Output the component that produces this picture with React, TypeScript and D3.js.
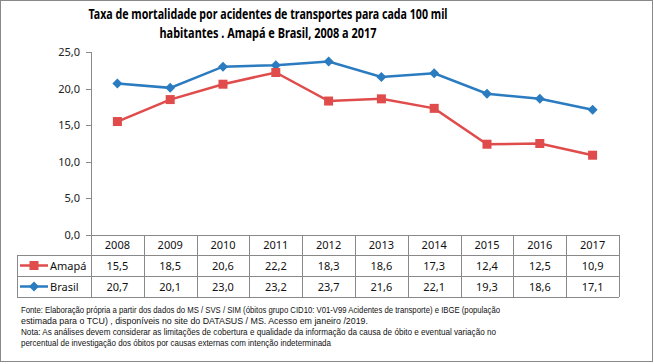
import React from "react";
import * as d3 from "d3";

// data
const years = ["2008", "2009", "2010", "2011", "2012", "2013", "2014", "2015", "2016", "2017"];
const amapa = [15.5, 18.5, 20.6, 22.2, 18.3, 18.6, 17.3, 12.4, 12.5, 10.9];
const brasil = [20.7, 20.1, 23.0, 23.2, 23.7, 21.6, 22.1, 19.3, 18.6, 17.1];
const yTicks = [0, 5, 10, 15, 20, 25];

const titleLines = [
  { text: "Taxa de mortalidade por acidentes de transportes para cada 100 mil", len: 359 },
  { text: "habitantes . Amapá e Brasil, 2008 a 2017", len: 217 },
];
const notes = [
  { text: "Fonte: Elaboração própria a partir dos dados do MS / SVS / SIM (óbitos grupo CID10: V01-V99 Acidentes de transporte) e IBGE (população", len: 479 },
  { text: "estimada para o TCU) , disponíveis  no site do DATASUS / MS. Acesso em janeiro /2019.", len: 347 },
  { text: "Nota:  As análises devem considerar as limitações de cobertura e qualidade da informação da causa de óbito e eventual variação no", len: 475 },
  { text: "percentual de investigação dos óbitos  por causas externas com intenção  indeterminada", len: 310 },
];

const RED = "#E04B4B";
const BLUE = "#2A7BBF";
const GRID = "#898989";
const FONT = "'Noto Sans', 'DejaVu Sans', sans-serif";

const fmt = (v: number) => v.toFixed(1).replace(".", ",");

export default function App() {
  const width = 654;
  const height = 364;
  const left = 91;
  const right = 619;
  const top = 52;
  const bottom = 235;
  const rowH = [20, 21, 21];
  const tableLeft = 17;

  const x = d3.scaleBand().domain(years).range([left, right]);
  const y = d3.scaleLinear().domain([0, 25]).range([bottom, top]);
  const cx = (yr: string) => (x(yr) as number) + x.bandwidth() / 2;

  const line = d3
    .line<number>()
    .x((_, i) => cx(years[i]))
    .y((d) => y(d));

  const r1 = bottom + rowH[0];
  const r2 = r1 + rowH[1];
  const r3 = r2 + rowH[2];

  const series = [
    { name: "Amapá", values: amapa, color: RED, marker: "square", rowTop: r1 },
    { name: "Brasil", values: brasil, color: BLUE, marker: "diamond", rowTop: r2 },
  ];

  const marker = (kind: string, px: number, py: number, color: string, key: string) =>
    kind === "square" ? (
      <rect key={key} x={px - 4.5} y={py - 4.5} width={9} height={9} fill={color} />
    ) : (
      <path key={key} d={`M${px},${py - 5}L${px + 5},${py}L${px},${py + 5}L${px - 5},${py}Z`} fill={color} />
    );

  return (
    <svg
      width={width}
      height={height}
      style={{ position: "absolute", left: 0, top: 0, background: "#fff" }}
      fontFamily={FONT}
    >
      <rect x={0.5} y={0.5} width={652} height={361} fill="#fff" stroke={GRID} />

      {titleLines.map((t, i) => (
        <text
          key={i}
          x={268}
          y={19 + i * 19}
          textAnchor="middle"
          fontWeight="bold"
          fontSize={14}
          textLength={t.len}
          lengthAdjust="spacingAndGlyphs"
          fill="#000"
        >
          {t.text}
        </text>
      ))}

      {/* y axis */}
      <line x1={left + 0.5} x2={left + 0.5} y1={top} y2={bottom} stroke={GRID} />
      {yTicks.map((t) => (
        <g key={t}>
          <line x1={left - 5} x2={left} y1={Math.round(y(t)) + 0.5} y2={Math.round(y(t)) + 0.5} stroke={GRID} />
          <text x={80} y={y(t) + 4} textAnchor="end" fontSize={11} fill="#222">
            {fmt(t)}
          </text>
        </g>
      ))}

      {/* lines */}
      {series
        .slice()
        .reverse()
        .map((s) => (
          <g key={s.name}>
            <path d={line(s.values) as string} fill="none" stroke={s.color} strokeWidth={2.5} />
            {s.values.map((v, i) => marker(s.marker, cx(years[i]), y(v), s.color, s.name + i))}
          </g>
        ))}

      {/* data table */}
      <g stroke={GRID} fill="none">
        <line x1={left} x2={right} y1={bottom + 0.5} y2={bottom + 0.5} />
        <line x1={tableLeft} x2={right} y1={r1 + 0.5} y2={r1 + 0.5} />
        <line x1={tableLeft} x2={right} y1={r2 + 0.5} y2={r2 + 0.5} />
        <line x1={tableLeft} x2={right} y1={r3 + 0.5} y2={r3 + 0.5} />
        <line x1={tableLeft + 0.5} x2={tableLeft + 0.5} y1={r1} y2={r3} />
        {years.map((yr) => (
          <line key={yr} x1={Math.round(x(yr) as number) + 0.5} x2={Math.round(x(yr) as number) + 0.5} y1={bottom} y2={r3} />
        ))}
        <line x1={right + 0.5} x2={right + 0.5} y1={bottom} y2={r3} />
      </g>
      {years.map((yr) => (
        <text key={yr} x={cx(yr)} y={bottom + 14} textAnchor="middle" fontSize={11} fill="#111">
          {yr}
        </text>
      ))}
      {series.map((s) => (
        <g key={s.name}>
          <line x1={20} x2={48} y1={s.rowTop + rowH[1] / 2} y2={s.rowTop + rowH[1] / 2} stroke={s.color} strokeWidth={2.5} />
          {marker(s.marker, 34, s.rowTop + rowH[1] / 2, s.color, "lg" + s.name)}
          <text x={50} y={s.rowTop + 15} fontSize={11} fill="#111">
            {s.name}
          </text>
          {s.values.map((v, i) => (
            <text key={i} x={cx(years[i])} y={s.rowTop + 15} textAnchor="middle" fontSize={11} fill="#111">
              {fmt(v)}
            </text>
          ))}
        </g>
      ))}

      {/* footnotes */}
      {notes.map((n, i) => (
        <text
          key={i}
          x={21}
          y={313 + i * 11}
          fontSize={9.5}
          fontFamily="'Liberation Sans', Arial, sans-serif"
          textLength={n.len}
          lengthAdjust="spacingAndGlyphs"
          fill="#111"
        >
          {n.text}
        </text>
      ))}
    </svg>
  );
}
